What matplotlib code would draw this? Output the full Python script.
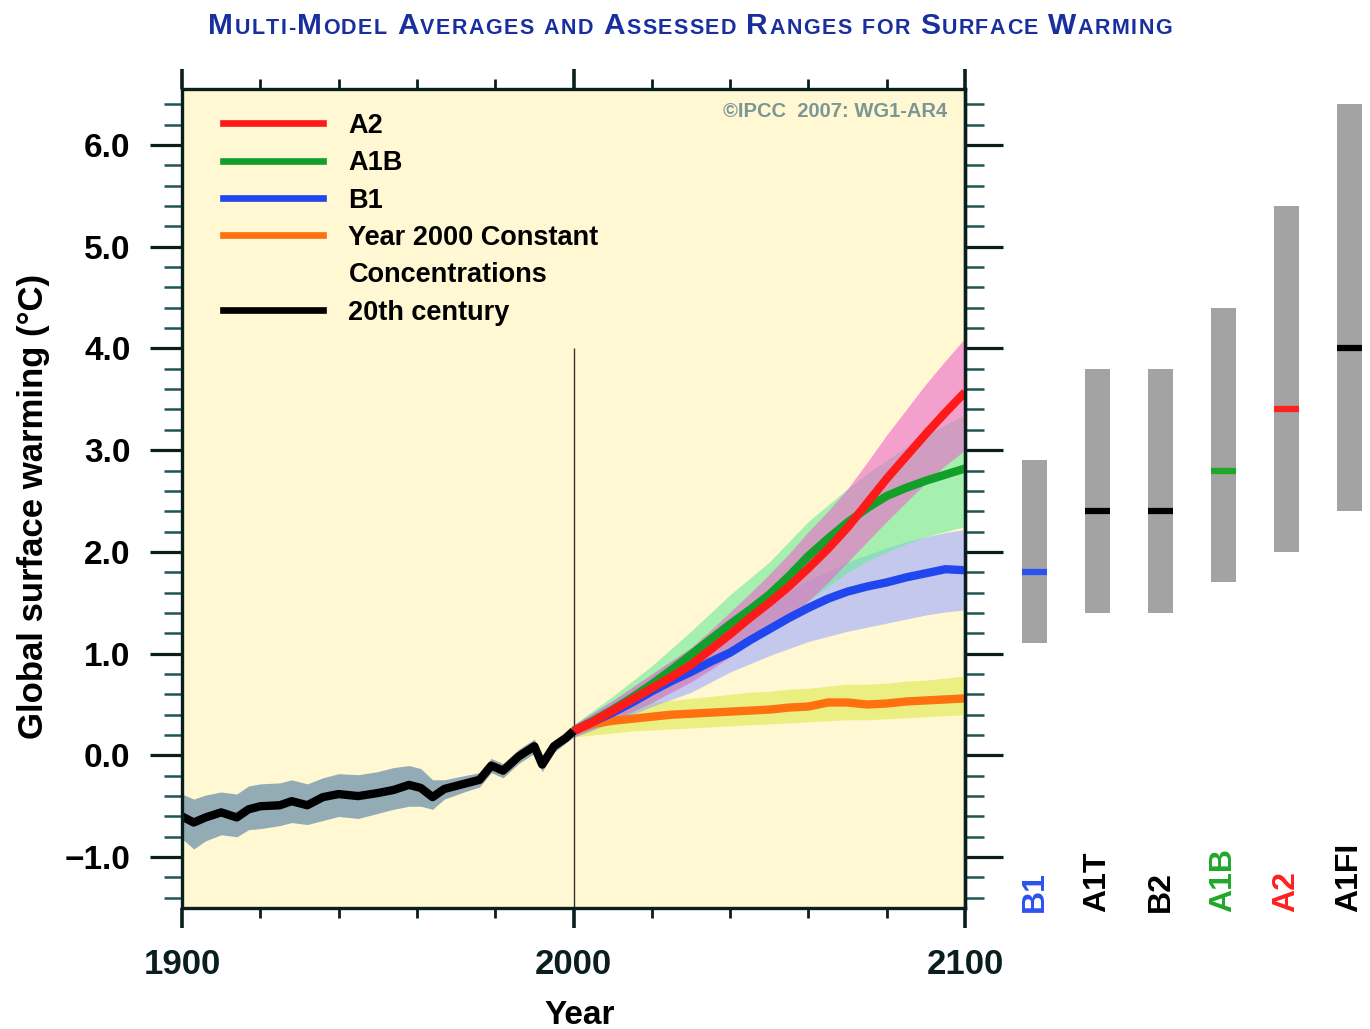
import numpy as np
import matplotlib
matplotlib.use('Agg')
import matplotlib.pyplot as plt
from matplotlib.lines import Line2D
from matplotlib.ticker import MultipleLocator, FuncFormatter

plt.rcParams['font.family'] = ['Liberation Sans', 'DejaVu Sans']
plt.rcParams['font.weight'] = 'bold'

# 20th century simulations (mean and range)
yrs20 = [1900, 1903, 1906, 1910, 1914, 1917, 1920, 1925, 1928, 1932, 1936, 1940, 1945,
         1950, 1954, 1958, 1961, 1964, 1967, 1972, 1976, 1979, 1982, 1986, 1990, 1992,
         1995, 1998, 2000]
mean20 = [-0.60, -0.66, -0.61, -0.56, -0.61, -0.53, -0.50, -0.49, -0.45, -0.49, -0.41, -0.38, -0.40,
          -0.37, -0.34, -0.29, -0.32, -0.41, -0.33, -0.28, -0.24, -0.10, -0.15, -0.01, 0.09, -0.09,
          0.09, 0.17, 0.24]
lo20 = [-0.82, -0.92, -0.84, -0.78, -0.80, -0.73, -0.72, -0.69, -0.66, -0.68, -0.64, -0.60, -0.62,
        -0.57, -0.53, -0.50, -0.50, -0.53, -0.43, -0.36, -0.31, -0.17, -0.22, -0.08, 0.02, -0.16,
        0.03, 0.12, 0.18]
hi20 = [-0.38, -0.43, -0.39, -0.36, -0.38, -0.30, -0.28, -0.27, -0.24, -0.28, -0.22, -0.18, -0.19,
        -0.16, -0.12, -0.10, -0.13, -0.24, -0.24, -0.20, -0.17, -0.03, -0.08, 0.06, 0.16, -0.02,
        0.15, 0.22, 0.30]

# 21st century projections (every 5 years)
yrs_f = [2000, 2005, 2010, 2015, 2020, 2025, 2030, 2035, 2040, 2045, 2050,
         2055, 2060, 2065, 2070, 2075, 2080, 2085, 2090, 2095, 2100]
a2 = [0.24, 0.33, 0.44, 0.55, 0.66, 0.77, 0.89, 1.04, 1.19, 1.35, 1.50,
      1.66, 1.84, 2.03, 2.24, 2.48, 2.72, 2.94, 3.16, 3.37, 3.57]
a2_lo = [0.18, 0.26, 0.34, 0.43, 0.52, 0.62, 0.72, 0.84, 0.97, 1.09, 1.22,
         1.36, 1.52, 1.70, 1.90, 2.10, 2.30, 2.49, 2.68, 2.85, 3.00]
a2_hi = [0.30, 0.42, 0.54, 0.67, 0.80, 0.93, 1.06, 1.23, 1.41, 1.59, 1.78,
         1.98, 2.20, 2.40, 2.62, 2.88, 3.15, 3.40, 3.65, 3.88, 4.10]
a1b = [0.24, 0.34, 0.45, 0.57, 0.70, 0.84, 0.99, 1.14, 1.29, 1.43, 1.58,
       1.76, 1.96, 2.13, 2.29, 2.43, 2.55, 2.63, 2.70, 2.76, 2.82]
a1b_lo = [0.18, 0.25, 0.33, 0.42, 0.52, 0.63, 0.74, 0.86, 0.98, 1.11, 1.24,
          1.37, 1.52, 1.66, 1.80, 1.91, 2.00, 2.08, 2.15, 2.20, 2.25]
a1b_hi = [0.30, 0.44, 0.58, 0.73, 0.88, 1.05, 1.22, 1.40, 1.58, 1.74, 1.90,
          2.10, 2.30, 2.46, 2.62, 2.77, 2.90, 3.03, 3.15, 3.25, 3.35]
b1 = [0.24, 0.33, 0.42, 0.52, 0.63, 0.73, 0.82, 0.92, 1.01, 1.13, 1.24,
      1.35, 1.45, 1.54, 1.61, 1.66, 1.70, 1.75, 1.79, 1.83, 1.82]
b1_lo = [0.18, 0.25, 0.32, 0.40, 0.48, 0.55, 0.62, 0.72, 0.82, 0.90, 0.98,
         1.05, 1.12, 1.17, 1.22, 1.26, 1.30, 1.34, 1.38, 1.41, 1.43]
b1_hi = [0.30, 0.42, 0.54, 0.67, 0.80, 0.93, 1.05, 1.16, 1.26, 1.38, 1.50,
         1.61, 1.72, 1.81, 1.90, 1.97, 2.04, 2.10, 2.15, 2.19, 2.22]
const = [0.24, 0.31, 0.34, 0.36, 0.38, 0.40, 0.41, 0.42, 0.43, 0.44, 0.45,
         0.47, 0.48, 0.52, 0.52, 0.50, 0.51, 0.53, 0.54, 0.55, 0.56]
const_lo = [0.18, 0.20, 0.22, 0.24, 0.25, 0.26, 0.27, 0.28, 0.29, 0.30, 0.31,
            0.32, 0.33, 0.34, 0.35, 0.35, 0.36, 0.37, 0.38, 0.39, 0.40]
const_hi = [0.30, 0.40, 0.46, 0.50, 0.52, 0.54, 0.56, 0.58, 0.60, 0.62, 0.63,
            0.65, 0.66, 0.68, 0.70, 0.70, 0.71, 0.73, 0.74, 0.76, 0.78]

# assessed ranges at end of century
scen = ['B1', 'A1T', 'B2', 'A1B', 'A2', 'A1FI']
best = [1.8, 2.4, 2.4, 2.8, 3.4, 4.0]
low = [1.1, 1.4, 1.4, 1.7, 2.0, 2.4]
high = [2.9, 3.8, 3.8, 4.4, 5.4, 6.4]
scen_col = ['#2a52f0', '#000000', '#000000', '#1ea82a', '#ff2020', '#000000']

W, H = 1370, 1029
fig = plt.figure(figsize=(W / 100, H / 100), dpi=100)
ax = fig.add_axes([182 / W, 1 - 908 / H, 783 / W, 819 / H])
ax.set_facecolor('#fff8d2')
ax.set_xlim(1900, 2100)
ax.set_ylim(-1.5, 6.55)

# uncertainty bands
ax.fill_between(yrs20, lo20, hi20, color='#93abb4', lw=0)
ax.fill_between(yrs_f, const_lo, const_hi, color='#dee94e', alpha=0.6, lw=0)
ax.fill_between(yrs_f, b1_lo, b1_hi, color='#9ba8ff', alpha=0.6, lw=0)
ax.fill_between(yrs_f, a1b_lo, a1b_hi, color='#69eb99', alpha=0.6, lw=0)
ax.fill_between(yrs_f, a2_lo, a2_hi, color='#ee65cb', alpha=0.6, lw=0)

ax.vlines(2000, -1.5, 4.0, color='#333333', lw=1, zorder=1.5)

lw = 6
ax.plot(yrs_f, const, color='#ff7010', lw=lw, solid_capstyle='butt')
ax.plot(yrs_f, b1, color='#2046f0', lw=lw, solid_capstyle='butt')
ax.plot(yrs_f, a1b, color='#13a02a', lw=lw, solid_capstyle='butt')
ax.plot(yrs_f, a2, color='#ff1a1a', lw=lw, solid_capstyle='butt')
ax.plot(yrs20, mean20, color='#000000', lw=lw, solid_capstyle='butt')

# legend
hl = 4.8
handles = [Line2D([], [], color='#ff1a1a', lw=hl),
           Line2D([], [], color='#13a02a', lw=hl),
           Line2D([], [], color='#2046f0', lw=hl),
           Line2D([], [], color='#ff7010', lw=hl),
           Line2D([], [], color='none', lw=hl),
           Line2D([], [], color='#000000', lw=hl)]
labels = ['A2', 'A1B', 'B1', 'Year 2000 Constant', 'Concentrations', '20th century']
ax.legend(handles, labels, loc='upper left', bbox_to_anchor=(0.0524, 0.971),
          frameon=False, fontsize=19.5, handlelength=3.7, handletextpad=0.93,
          labelspacing=0.42, borderpad=0, borderaxespad=0)

ax.text(0.977, 0.972, '\u00a9IPCC  2007: WG1-AR4', transform=ax.transAxes,
        ha='right', va='center', fontsize=14.5, color='#7a9696')

# axes styling
for sp in ax.spines.values():
    sp.set_linewidth(2.4)
    sp.set_color('#0b1e1e')
ax.xaxis.set_major_locator(MultipleLocator(100))
ax.xaxis.set_minor_locator(MultipleLocator(20))
ax.yaxis.set_major_locator(MultipleLocator(1))
ax.yaxis.set_minor_locator(MultipleLocator(0.2))
ax.yaxis.set_major_formatter(FuncFormatter(lambda v, p: f'{v:.1f}'.replace('-', '\u2212')))
ax.tick_params(axis='x', which='both', direction='out', top=True, bottom=True, colors='#0b1e1e')
ax.tick_params(axis='x', which='major', length=14.5, width=2.6, labelsize=25, pad=14)
ax.tick_params(axis='x', which='minor', length=7, width=2.0)
ax.tick_params(axis='y', which='both', direction='out', left=True, right=False)
ax.tick_params(axis='y', which='major', length=23, width=2.3, labelsize=24, pad=14, color='#0b1e1e')
ax.tick_params(axis='y', which='minor', length=13, width=1.8, color='#1f5555')

sec = ax.secondary_yaxis('right')
sec.yaxis.set_major_locator(MultipleLocator(1))
sec.yaxis.set_minor_locator(MultipleLocator(0.2))
sec.tick_params(which='both', direction='out', labelright=False)
sec.tick_params(which='major', length=27, width=2.3, color='#0b1e1e')
sec.tick_params(which='minor', length=14, width=1.8, color='#1f5555')
sec.spines['right'].set_linewidth(2.4)
sec.spines['right'].set_color('#0b1e1e')

ax.set_ylabel('Global surface warming (\u00b0C)', fontsize=25, fontweight='bold')
ax.yaxis.set_label_coords(-0.168, 0.49)
ax.set_xlabel('Year', fontsize=24, fontweight='bold')
ax.xaxis.set_label_coords(0.508, -0.112)
ax.xaxis.label.set_va('top')

# assessed range bars
ax2 = fig.add_axes([1003 / W, 1 - 908 / H, 378 / W, 819 / H])
ax2.set_xlim(-0.5, 5.5)
ax2.set_ylim(ax.get_ylim())
ax2.axis('off')
xs = np.arange(len(scen))
ax2.bar(xs, np.array(high) - np.array(low), bottom=low, width=0.4, color='#a3a3a3')
ax2.hlines(best, xs - 0.2, xs + 0.2, colors=scen_col, lw=4.5)
for i, s in enumerate(scen):
    ax2.text(xs[i], -1.54, s, rotation=90, ha='center', va='bottom',
             color=scen_col[i], fontsize=23)

# small-caps style title, letter-spaced to the original width
title = 'Multi-Model Averages and Assessed Ranges for Surface Warming'
big, small = 21.5, 15.5
r = fig.canvas.get_renderer()
chars = []
for ch in title:
    if ch == ' ':
        chars.append((None, 0.33 * small * 100 / 72))
        continue
    sz = big if ch.isupper() else small
    t = fig.text(0, 0.967, ch.upper(), fontsize=sz, color='#1a2f9e', ha='left', va='baseline')
    chars.append((t, t.get_window_extent(r).width))
natural = sum(w for _, w in chars)
track = (964 - natural) / (len(chars) - 1)
x = 208
for t, w in chars:
    if t is not None:
        t.set_x(x / W)
    x += w + track

fig.savefig('out.png', dpi=100)
